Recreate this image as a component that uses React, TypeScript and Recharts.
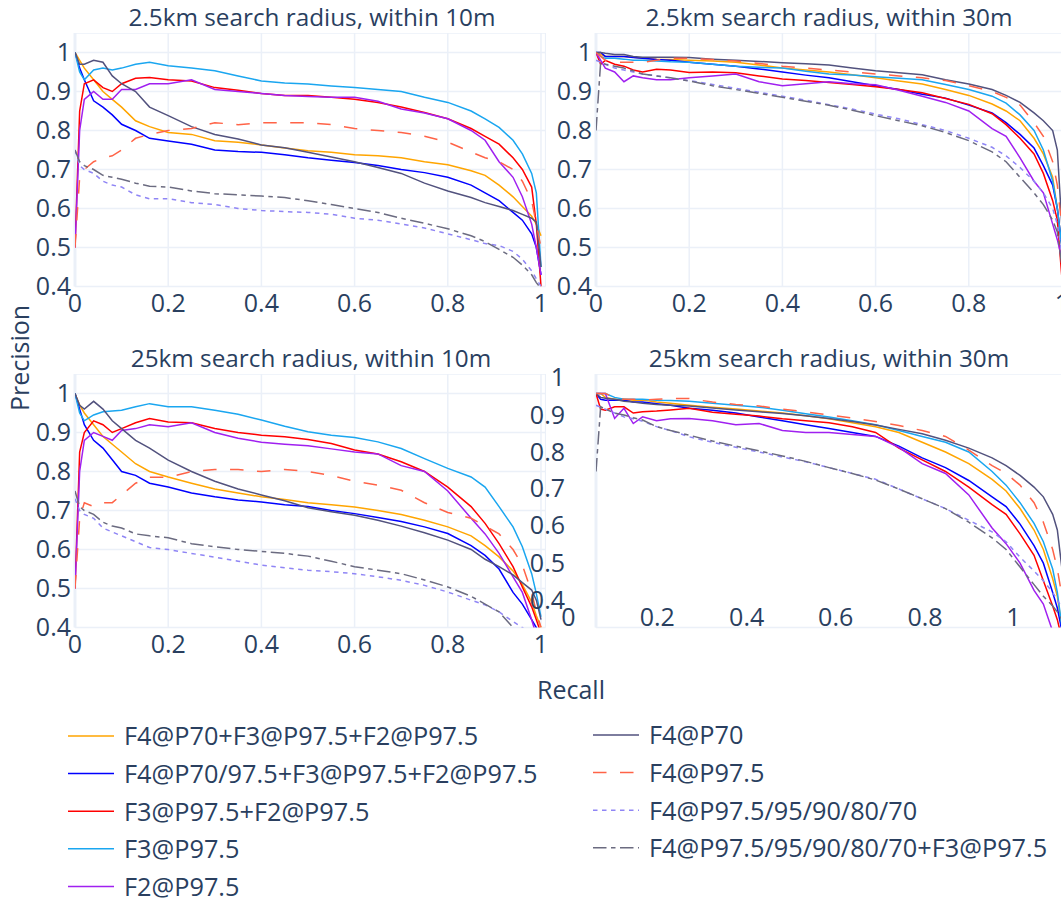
import { LineChart, Line, XAxis, YAxis, CartesianGrid, ReferenceLine } from 'recharts';

// recall grid shared by every curve
const recall = [0, 0.01, 0.02, 0.04, 0.06, 0.08, 0.1, 0.13, 0.16, 0.2, 0.25, 0.3, 0.35, 0.4, 0.45, 0.5, 0.55, 0.6, 0.65, 0.7, 0.75, 0.8, 0.85, 0.88, 0.91, 0.94, 0.96, 0.98, 0.99, 1];

const xTicks = [0, 0.2, 0.4, 0.6, 0.8, 1];
const yTicks = [0.4, 0.5, 0.6, 0.7, 0.8, 0.9, 1];

// 2.5km search radius, within 10m
const tlOrange = [1, 0.98, 0.96, 0.93, 0.9, 0.88, 0.86, 0.825, 0.81, 0.795, 0.79, 0.774, 0.77, 0.763, 0.755, 0.748, 0.744, 0.738, 0.735, 0.73, 0.72, 0.712, 0.697, 0.685, 0.66, 0.63, 0.605, 0.58, 0.56, 0.53];
const tlBlue = [1, 0.96, 0.93, 0.876, 0.86, 0.84, 0.816, 0.8, 0.78, 0.773, 0.765, 0.75, 0.746, 0.744, 0.738, 0.73, 0.724, 0.718, 0.71, 0.7, 0.692, 0.68, 0.66, 0.64, 0.62, 0.59, 0.57, 0.535, 0.5, 0.43];
const tlRed = [0.5, 0.85, 0.92, 0.93, 0.91, 0.9, 0.92, 0.934, 0.936, 0.93, 0.927, 0.91, 0.903, 0.895, 0.89, 0.89, 0.885, 0.88, 0.872, 0.86, 0.846, 0.83, 0.805, 0.785, 0.765, 0.73, 0.7, 0.655, 0.56, 0.4];
const tlSky = [1, 0.95, 0.93, 0.955, 0.96, 0.955, 0.96, 0.97, 0.975, 0.966, 0.96, 0.953, 0.94, 0.927, 0.922, 0.919, 0.914, 0.91, 0.905, 0.9, 0.885, 0.872, 0.85, 0.83, 0.808, 0.775, 0.74, 0.69, 0.64, 0.45];
const tlViolet = [0.5, 0.8, 0.88, 0.9, 0.88, 0.88, 0.905, 0.905, 0.92, 0.92, 0.93, 0.905, 0.9, 0.895, 0.89, 0.887, 0.885, 0.885, 0.875, 0.855, 0.845, 0.83, 0.8, 0.775, 0.72, 0.68, 0.63, 0.56, 0.5, 0.43];
const tlSlate = [1, 0.97, 0.97, 0.98, 0.975, 0.94, 0.92, 0.9, 0.86, 0.838, 0.81, 0.79, 0.778, 0.763, 0.756, 0.744, 0.732, 0.72, 0.705, 0.69, 0.665, 0.645, 0.628, 0.615, 0.605, 0.595, 0.585, 0.575, 0.565, 0.45];
const tlCoral = [0.5, 0.68, 0.7, 0.72, 0.73, 0.735, 0.75, 0.78, 0.79, 0.8, 0.805, 0.82, 0.815, 0.82, 0.82, 0.82, 0.815, 0.805, 0.8, 0.795, 0.785, 0.77, 0.745, 0.73, 0.72, 0.7, 0.67, 0.62, 0.56, 0.5];
const tlLilac = [0.75, 0.71, 0.7, 0.69, 0.67, 0.66, 0.655, 0.635, 0.625, 0.625, 0.615, 0.61, 0.6, 0.595, 0.592, 0.59, 0.585, 0.575, 0.57, 0.56, 0.55, 0.535, 0.52, 0.51, 0.505, 0.49, 0.47, 0.44, 0.42, 0.4];
const tlGray = [0.75, 0.72, 0.71, 0.7, 0.685, 0.68, 0.675, 0.665, 0.657, 0.655, 0.645, 0.638, 0.635, 0.632, 0.628, 0.62, 0.61, 0.6, 0.59, 0.575, 0.562, 0.548, 0.53, 0.515, 0.495, 0.475, 0.455, 0.43, 0.41, 0.395];

// 2.5km search radius, within 30m
const trOrange = [1, 0.995, 0.99, 0.99, 0.99, 0.988, 0.985, 0.983, 0.982, 0.98, 0.978, 0.975, 0.968, 0.96, 0.955, 0.95, 0.943, 0.935, 0.927, 0.919, 0.905, 0.89, 0.868, 0.85, 0.825, 0.78, 0.74, 0.68, 0.6, 0.5];
const trBlue = [1, 1, 0.99, 0.99, 0.99, 0.987, 0.985, 0.982, 0.98, 0.975, 0.97, 0.965, 0.958, 0.95, 0.942, 0.935, 0.925, 0.915, 0.905, 0.893, 0.883, 0.865, 0.845, 0.82, 0.79, 0.755, 0.71, 0.66, 0.6, 0.5];
const trRed = [1, 0.97, 0.98, 0.97, 0.965, 0.955, 0.95, 0.957, 0.955, 0.949, 0.95, 0.948, 0.94, 0.932, 0.928, 0.923, 0.918, 0.912, 0.905, 0.897, 0.882, 0.867, 0.843, 0.815, 0.78, 0.74, 0.69, 0.62, 0.57, 0.42];
const trSky = [1, 0.99, 0.985, 0.985, 0.983, 0.98, 0.98, 0.978, 0.976, 0.975, 0.97, 0.965, 0.962, 0.96, 0.952, 0.945, 0.942, 0.938, 0.934, 0.93, 0.918, 0.905, 0.888, 0.87, 0.84, 0.8, 0.75, 0.67, 0.6, 0.5];
const trViolet = [1, 0.98, 0.96, 0.95, 0.925, 0.94, 0.935, 0.93, 0.93, 0.935, 0.94, 0.945, 0.925, 0.915, 0.92, 0.925, 0.92, 0.917, 0.903, 0.888, 0.872, 0.85, 0.805, 0.785, 0.73, 0.67, 0.64, 0.56, 0.52, 0.47];
const trSlate = [1, 1, 0.998, 0.995, 0.995, 0.99, 0.988, 0.988, 0.988, 0.987, 0.983, 0.98, 0.977, 0.974, 0.971, 0.968, 0.96, 0.953, 0.948, 0.943, 0.93, 0.919, 0.905, 0.89, 0.872, 0.845, 0.825, 0.8, 0.75, 0.55];
const trCoral = [1, 0.99, 0.98, 0.975, 0.975, 0.975, 0.975, 0.98, 0.985, 0.985, 0.982, 0.978, 0.972, 0.965, 0.96, 0.955, 0.95, 0.945, 0.94, 0.935, 0.928, 0.915, 0.9, 0.885, 0.865, 0.82, 0.785, 0.72, 0.66, 0.55];
const trLilac = [0.98, 0.975, 0.97, 0.96, 0.955, 0.95, 0.945, 0.94, 0.935, 0.928, 0.918, 0.908, 0.898, 0.888, 0.878, 0.866, 0.855, 0.842, 0.83, 0.815, 0.8, 0.78, 0.757, 0.735, 0.705, 0.67, 0.64, 0.6, 0.56, 0.48];
const trGray = [0.8, 0.975, 0.97, 0.965, 0.96, 0.953, 0.945, 0.94, 0.935, 0.927, 0.915, 0.905, 0.895, 0.885, 0.875, 0.865, 0.852, 0.838, 0.825, 0.812, 0.795, 0.774, 0.745, 0.72, 0.68, 0.64, 0.61, 0.57, 0.54, 0.45];

// 25km search radius, within 10m
const blOrange = [1, 0.97, 0.95, 0.92, 0.89, 0.87, 0.85, 0.82, 0.8, 0.786, 0.77, 0.755, 0.745, 0.735, 0.728, 0.72, 0.715, 0.709, 0.7, 0.69, 0.675, 0.658, 0.635, 0.61, 0.581, 0.545, 0.51, 0.465, 0.43, 0.4];
const blBlue = [1, 0.96, 0.92, 0.88, 0.86, 0.83, 0.8, 0.79, 0.77, 0.76, 0.745, 0.735, 0.727, 0.722, 0.715, 0.71, 0.7, 0.692, 0.682, 0.672, 0.658, 0.641, 0.61, 0.585, 0.55, 0.49, 0.46, 0.42, 0.4, 0.37];
const blRed = [0.5, 0.85, 0.9, 0.93, 0.92, 0.9, 0.91, 0.925, 0.936, 0.927, 0.925, 0.91, 0.9, 0.893, 0.889, 0.882, 0.872, 0.855, 0.845, 0.825, 0.8, 0.76, 0.71, 0.667, 0.615, 0.556, 0.504, 0.453, 0.42, 0.385];
const blSky = [1, 0.95, 0.93, 0.945, 0.953, 0.955, 0.957, 0.966, 0.974, 0.966, 0.966, 0.957, 0.947, 0.932, 0.916, 0.902, 0.893, 0.887, 0.876, 0.859, 0.833, 0.808, 0.786, 0.76, 0.71, 0.658, 0.607, 0.538, 0.487, 0.427];
const blViolet = [0.5, 0.8, 0.88, 0.9, 0.89, 0.88, 0.905, 0.91, 0.92, 0.915, 0.925, 0.9, 0.885, 0.875, 0.87, 0.866, 0.858, 0.85, 0.845, 0.815, 0.8, 0.75, 0.68, 0.64, 0.59, 0.53, 0.49, 0.42, 0.38, 0.35];
const blSlate = [1, 0.97, 0.96, 0.98, 0.96, 0.93, 0.91, 0.88, 0.86, 0.829, 0.8, 0.775, 0.755, 0.74, 0.725, 0.707, 0.697, 0.688, 0.675, 0.66, 0.643, 0.624, 0.6, 0.575, 0.556, 0.535, 0.515, 0.496, 0.47, 0.42];
const blCoral = [0.5, 0.68, 0.72, 0.71, 0.72, 0.72, 0.74, 0.77, 0.785, 0.785, 0.8, 0.805, 0.805, 0.8, 0.805, 0.8, 0.79, 0.775, 0.765, 0.752, 0.72, 0.695, 0.68, 0.66, 0.64, 0.6, 0.56, 0.49, 0.44, 0.4];
const blLilac = [0.73, 0.7, 0.69, 0.68, 0.655, 0.645, 0.635, 0.62, 0.605, 0.6, 0.59, 0.58, 0.57, 0.56, 0.553, 0.547, 0.543, 0.538, 0.53, 0.521, 0.508, 0.491, 0.47, 0.458, 0.44, 0.415, 0.4, 0.38, 0.37, 0.35];
const blGray = [0.75, 0.71, 0.7, 0.69, 0.67, 0.66, 0.655, 0.64, 0.635, 0.63, 0.615, 0.607, 0.6, 0.595, 0.59, 0.583, 0.57, 0.556, 0.547, 0.538, 0.522, 0.504, 0.48, 0.46, 0.44, 0.4, 0.385, 0.365, 0.355, 0.34];

// 25km search radius, within 30m
const brOrange = [1, 1, 0.99, 0.985, 0.985, 0.983, 0.983, 0.978, 0.975, 0.97, 0.965, 0.96, 0.955, 0.95, 0.943, 0.935, 0.925, 0.915, 0.9, 0.875, 0.85, 0.82, 0.78, 0.75, 0.705, 0.65, 0.6, 0.525, 0.48, 0.4];
const brBlue = [1, 0.985, 0.983, 0.983, 0.983, 0.978, 0.978, 0.974, 0.97, 0.962, 0.957, 0.95, 0.94, 0.93, 0.92, 0.91, 0.9, 0.89, 0.865, 0.835, 0.81, 0.777, 0.735, 0.71, 0.665, 0.61, 0.565, 0.49, 0.45, 0.39];
const brRed = [1, 0.96, 0.957, 0.966, 0.966, 0.95, 0.953, 0.955, 0.958, 0.962, 0.952, 0.947, 0.942, 0.935, 0.93, 0.925, 0.915, 0.9, 0.86, 0.83, 0.8, 0.76, 0.715, 0.69, 0.64, 0.585, 0.52, 0.455, 0.42, 0.37];
const brSky = [1, 1, 1, 0.99, 0.985, 0.985, 0.985, 0.983, 0.982, 0.98, 0.975, 0.97, 0.965, 0.957, 0.948, 0.94, 0.93, 0.92, 0.905, 0.89, 0.875, 0.85, 0.8, 0.765, 0.72, 0.667, 0.62, 0.55, 0.49, 0.4];
const brViolet = [1, 1, 1, 0.936, 0.962, 0.923, 0.94, 0.93, 0.935, 0.936, 0.93, 0.92, 0.923, 0.905, 0.9, 0.9, 0.895, 0.89, 0.862, 0.82, 0.795, 0.74, 0.655, 0.615, 0.565, 0.495, 0.46, 0.39, 0.35, 0.3];
const brSlate = [1, 0.99, 0.988, 0.985, 0.98, 0.978, 0.975, 0.972, 0.97, 0.968, 0.963, 0.958, 0.953, 0.949, 0.943, 0.936, 0.928, 0.919, 0.908, 0.897, 0.88, 0.86, 0.835, 0.815, 0.79, 0.76, 0.735, 0.69, 0.65, 0.55];
const brCoral = [1, 1, 1, 0.99, 0.985, 0.985, 0.983, 0.985, 0.987, 0.987, 0.978, 0.972, 0.968, 0.96, 0.953, 0.945, 0.937, 0.928, 0.918, 0.905, 0.89, 0.855, 0.815, 0.795, 0.765, 0.72, 0.67, 0.6, 0.55, 0.48];
const brLilac = [0.97, 0.965, 0.96, 0.95, 0.94, 0.935, 0.929, 0.915, 0.905, 0.889, 0.875, 0.862, 0.85, 0.837, 0.825, 0.81, 0.795, 0.78, 0.755, 0.73, 0.705, 0.675, 0.645, 0.62, 0.58, 0.545, 0.52, 0.49, 0.47, 0.45];
const brGray = [0.8, 0.966, 0.96, 0.95, 0.945, 0.938, 0.932, 0.915, 0.905, 0.893, 0.878, 0.865, 0.853, 0.84, 0.826, 0.81, 0.795, 0.778, 0.755, 0.73, 0.705, 0.67, 0.63, 0.6, 0.555, 0.51, 0.48, 0.455, 0.44, 0.42];

// the last panel's tick labels sit off its grid in the original
const brXLabels = ['0', '0.2', '0.4', '0.6', '0.8', '1'];
const brYLabels = ['1', '0.9', '0.8', '0.7', '0.6', '0.5', '0.4'];

const SERIES = [
  { key: 'orange', name: 'F4@P70+F3@P97.5+F2@P97.5', color: '#ffa500', dash: undefined },
  { key: 'blue', name: 'F4@P70/97.5+F3@P97.5+F2@P97.5', color: '#0000ff', dash: undefined },
  { key: 'red', name: 'F3@P97.5+F2@P97.5', color: '#ff0000', dash: undefined },
  { key: 'sky', name: 'F3@P97.5', color: '#1aa6f0', dash: undefined },
  { key: 'violet', name: 'F2@P97.5', color: '#a020f0', dash: undefined },
  { key: 'slate', name: 'F4@P70', color: '#52527e', dash: undefined },
  { key: 'coral', name: 'F4@P97.5', color: '#ff6347', dash: '13.5 13.5' },
  { key: 'lilac', name: 'F4@P97.5/95/90/80/70', color: '#8f85f5', dash: '4.5 4.5' },
  { key: 'gray', name: 'F4@P97.5/95/90/80/70+F3@P97.5', color: '#6b6b80', dash: '13.5 4.5 4.5 4.5' },
];

const FONT = '"Open Sans", verdana, arial, sans-serif';
const TEXT = '#2a3f5f';
const GRID = '#ebf0f8';

const Y_W = 75;
const X_H = 40;
const PLOT_W = 466 * 1.01;
const PLOT_H = 390 * 0.65;

const PANELS = [
  { title: '2.5km search radius, within 10m', values: [tlOrange, tlBlue, tlRed, tlSky, tlViolet, tlSlate, tlCoral, tlLilac, tlGray], left: 75, top: 32.5, titleX: 312, titleY: 26, hideTicks: false },
  { title: '2.5km search radius, within 30m', values: [trOrange, trBlue, trRed, trSky, trViolet, trSlate, trCoral, trLilac, trGray], left: 596, top: 32.5, titleX: 829, titleY: 26, hideTicks: false },
  { title: '25km search radius, within 10m', values: [blOrange, blBlue, blRed, blSky, blViolet, blSlate, blCoral, blLilac, blGray], left: 75, top: 373.8, titleX: 311, titleY: 367, hideTicks: false },
  { title: '25km search radius, within 30m', values: [brOrange, brBlue, brRed, brSky, brViolet, brSlate, brCoral, brLilac, brGray], left: 596, top: 373.8, titleX: 829, titleY: 367, hideTicks: true },
];

function buildRows(values: number[][]) {
  return recall.map((r, i) => {
    const row: Record<string, number> = { r };
    SERIES.forEach((s, j) => {
      row[s.key] = values[j][i];
    });
    return row;
  });
}

const tickStyle = { fill: TEXT, fontSize: 25, fontFamily: FONT };

function Panel({ p }: { p: (typeof PANELS)[number] }) {
  const data = buildRows(p.values);
  return (
    <div style={{ position: 'absolute', left: p.left - Y_W, top: p.top }}>
      <LineChart width={Y_W + PLOT_W} height={PLOT_H + X_H} data={data} margin={{ top: 0, right: 0, bottom: 0, left: 0 }}>
        <CartesianGrid stroke={GRID} strokeWidth={1.5} />
        <XAxis
          type="number"
          dataKey="r"
          domain={[0, 1.01]}
          ticks={xTicks}
          interval={0}
          allowDataOverflow
          axisLine={false}
          tickLine={false}
          tickSize={0}
          tickMargin={8}
          height={X_H}
          tick={p.hideTicks ? false : tickStyle}
        />
        <YAxis
          type="number"
          domain={[0.4, 1.05]}
          ticks={yTicks}
          interval={0}
          allowDataOverflow
          axisLine={false}
          tickLine={false}
          tickSize={0}
          tickMargin={4}
          width={Y_W}
          tick={p.hideTicks ? false : tickStyle}
        />
        <ReferenceLine x={0} stroke={GRID} strokeWidth={3} />
        {SERIES.map((s) => (
          <Line
            key={s.key}
            type="linear"
            dataKey={s.key}
            name={s.name}
            stroke={s.color}
            strokeWidth={1.5}
            strokeDasharray={s.dash}
            dot={false}
            activeDot={false}
            isAnimationActive={false}
          />
        ))}
      </LineChart>
    </div>
  );
}

const legendCols = [
  { lineX: 68, textX: 124, rows: [736, 773.6, 811.2, 848.8, 886.4] },
  { lineX: 593, textX: 649, rows: [735, 772.6, 810.2, 847.8] },
];

export default function App() {
  const col1 = SERIES.slice(0, 5);
  const col2 = SERIES.slice(5);
  const brX = [568.3, 657.3, 746.7, 835.7, 925, 1013.3];
  const brY = [376.7, 415, 451.7, 488.3, 525, 562.7, 600];
  return (
    <div style={{ position: 'absolute', left: 0, top: 0, width: 1061, height: 902, overflow: 'hidden', background: '#fff', fontFamily: FONT }}>
      {PANELS.map((p) => (
        <Panel key={p.title} p={p} />
      ))}
      <svg width={1061} height={902} style={{ position: 'absolute', left: 0, top: 0, pointerEvents: 'none' }} fontFamily={FONT}>
        {PANELS.map((p) => (
          <text key={p.title} x={p.titleX} y={p.titleY} textAnchor="middle" fontSize={24.3} fill={TEXT}>
            {p.title}
          </text>
        ))}
        {brXLabels.map((t, i) => (
          <text key={'bx' + t} x={brX[i]} y={625.6} textAnchor="middle" fontSize={25} fill={TEXT}>
            {t}
          </text>
        ))}
        {brYLabels.map((t, i) => (
          <text key={'by' + t} x={565} y={brY[i] + 8.9} textAnchor="end" fontSize={25} fill={TEXT}>
            {t}
          </text>
        ))}
        <text x={571} y={699} textAnchor="middle" fontSize={25} fill={TEXT}>
          Recall
        </text>
        <text transform="translate(29, 358) rotate(-90)" textAnchor="middle" fontSize={25} fill={TEXT}>
          Precision
        </text>
        {[col1, col2].map((items, c) =>
          items.map((s, i) => {
            const col = legendCols[c];
            const y = col.rows[i];
            return (
              <g key={s.key}>
                <line x1={col.lineX} x2={col.lineX + 46} y1={y} y2={y} stroke={s.color} strokeWidth={1.5} strokeDasharray={s.dash} />
                <text x={col.textX} y={y + 9.3} fontSize={25.3} fill={TEXT}>
                  {s.name}
                </text>
              </g>
            );
          })
        )}
      </svg>
    </div>
  );
}
